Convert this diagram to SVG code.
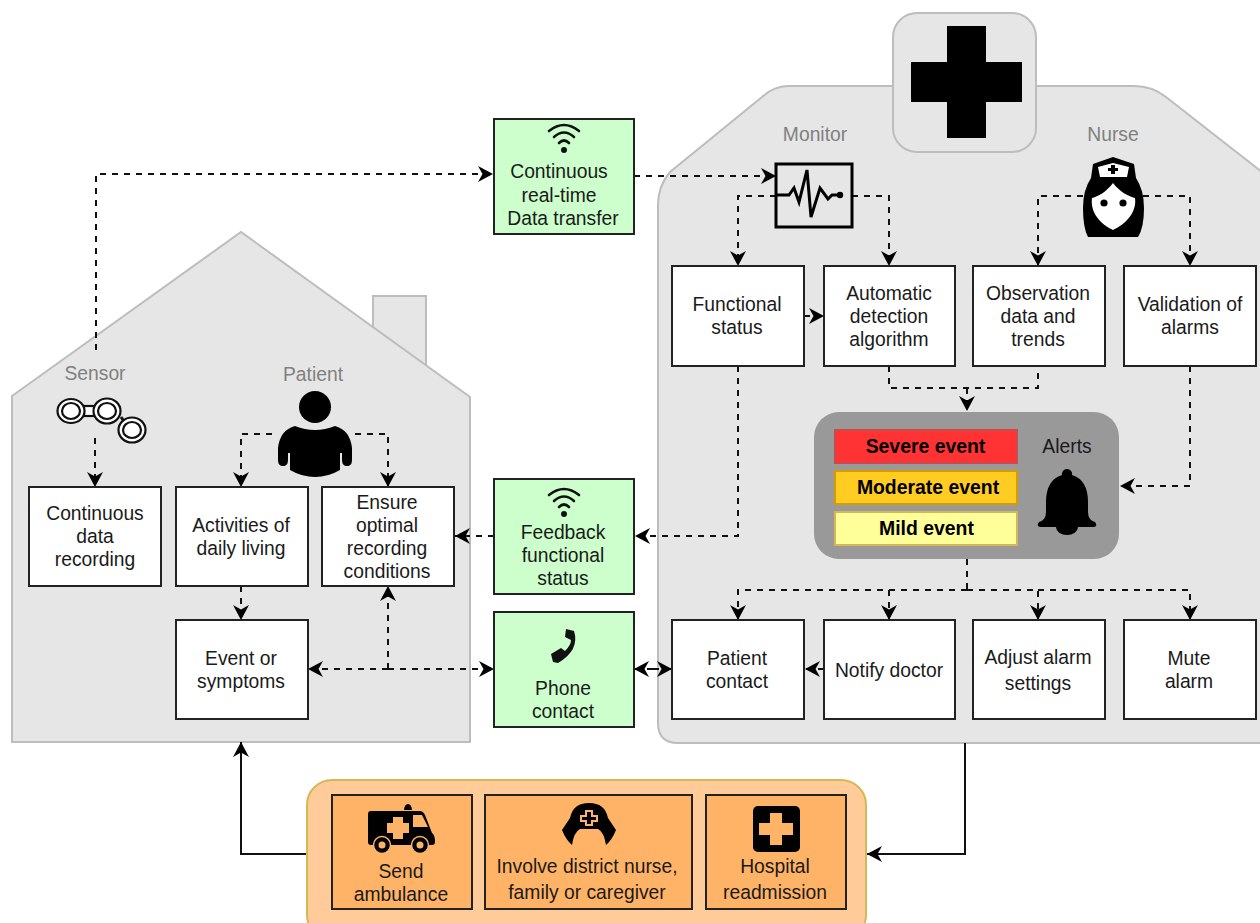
<svg xmlns="http://www.w3.org/2000/svg" width="1260" height="923" viewBox="0 0 1260 923">
<style>
text{font-family:"Liberation Sans",Arial,sans-serif;font-size:19.3px;text-anchor:middle;fill:#1a1a1a}
.g{fill:#808080}
.b{font-weight:bold;fill:#000;font-size:19.4px}
.bx{fill:#fff;stroke:#222;stroke-width:2}
.gr{fill:#ccffcc;stroke:#222;stroke-width:2}
.or{fill:#ffb366;stroke:#222;stroke-width:2}
.bg{fill:#e6e6e6;stroke:#bdbdbd;stroke-width:2}
.d{fill:none;stroke:#111;stroke-width:2;stroke-dasharray:6 6}
.da{marker-end:url(#a)}
.s{fill:none;stroke:#111;stroke-width:2;marker-end:url(#a)}
.w{fill:none;stroke:#111;stroke-width:2.6;stroke-linecap:round}
</style>
<defs>
<marker id="a" markerUnits="userSpaceOnUse" markerWidth="17" markerHeight="18" refX="15" refY="9" orient="auto-start-reverse"><path d="M15,9 L0,1 L4.5,9 L0,17 Z" fill="#000"/></marker>
<g id="wifi"><path class="w" d="M-15,-12 Q0,-24 15,-12"/><path class="w" d="M-10,-6 Q0,-15 10,-6"/><path class="w" d="M-5,0 Q0,-5 5,0"/><circle cx="0" cy="7" r="3" fill="#111"/></g>
</defs>
<g id="home">
<rect x="373" y="296" width="53" height="90" fill="#e6e6e6" stroke="#bdbdbd" stroke-width="2"/>
<path class="bg" d="M12,396 L241,232 L470,397 V742 H12 Z"/>
<text class="g" x="95" y="380">Sensor</text>
<text class="g" x="313" y="381">Patient</text>
</g>
<g id="hospital">
<path class="bg" d="M1262,172 L1166,97 Q1152,86 1134,86 H788 Q774,86 762,97 L670,172 Q658,186 658,205 V723 Q658,743 678,743 H1262"/>
<text class="g" x="815" y="141">Monitor</text>
<text class="g" x="1113" y="141">Nurse</text>
</g>
<g id="cross">
<rect class="bg" x="893" y="13" width="143" height="139" rx="24"/>
<path d="M947,26 H986 V62 H1022 V102 H986 V138 H947 V102 H911 V62 H947 Z" fill="#000"/>
</g>
<g id="connectors">
<path class="d da" d="M96,350 V174 H493"/>
<path class="d da" d="M634,176 H776"/>
<path class="d da" d="M776,196 H738 V266"/>
<path class="d da" d="M852,196 H889 V266"/>
<path class="d da" d="M1083,196 H1038 V266"/>
<path class="d da" d="M1143,196 H1190 V266"/>
<path class="d da" d="M804,316 H824"/>
<path class="d" d="M889,366 V388 H1038 V366"/>
<path class="d da" d="M967,388 V411"/>
<path class="d da" d="M1190,366 V486 H1120"/>
<path class="d da" d="M738,366 V536 H635"/>
<path class="d da" d="M494,536 H455"/>
<path class="d" d="M967,559 V590"/>
<path class="d da" d="M967,590 H738 V620"/>
<path class="d da" d="M889,590 V620"/>
<path class="d da" d="M967,590 H1038 V620"/>
<path class="d da" d="M1038,590 H1190 V620"/>
<path class="d da" d="M824,669 H805"/>
<path class="d da" d="M653,669 H634"/>
<path class="d da" d="M653,669 H672"/>
<path class="d da" d="M388,669 H308"/>
<path class="d da" d="M388,669 H494"/>
<path class="d da" d="M388,669 V586"/>
<path class="d da" d="M241,586 V620"/>
<path class="d da" d="M95,438 V487"/>
<path class="d da" d="M272,434 H241 V487"/>
<path class="d da" d="M355,434 H388 V487"/>
<path class="s" d="M965,743 V854 H867"/>
<path class="s" d="M307,854 H241 V742"/>
</g>
<g id="sensor-icon" fill="#fff" stroke="#111" stroke-width="2.2">
<rect x="84" y="406" width="12" height="10"/>
<path d="M121,417 L126,424" fill="none" stroke-width="3"/>
<ellipse cx="71" cy="411" rx="13.5" ry="12"/><ellipse cx="71" cy="411" rx="9" ry="8"/>
<ellipse cx="107" cy="411" rx="13.5" ry="12.5"/><ellipse cx="107" cy="411" rx="9" ry="8"/>
<ellipse cx="132" cy="430" rx="13.5" ry="12.5"/><ellipse cx="132" cy="430" rx="9" ry="8"/>
</g>
<g id="patient-icon" fill="#000">
<circle cx="315" cy="407" r="16"/>
<path d="M295,426 Q315,434 335,426 Q350,430 352,448 V460 Q352,466 347,466 Q342,466 342,460 V453 H340 V470 Q328,477 315,477 Q302,477 290,470 V453 H288 V460 Q288,466 283,466 Q278,466 278,460 V448 Q280,430 295,426 Z"/>
</g>
<g id="monitor-icon">
<rect x="776" y="164" width="76" height="63" fill="none" stroke="#000" stroke-width="3"/>
<path d="M776,195 H789 L794,188 L799,202 L807,170 L811,217 L820,188 L828,199 L832,195 H840" fill="none" stroke="#000" stroke-width="3"/>
<circle cx="840" cy="195" r="3.2" fill="#000"/>
</g>
<g id="nurse-icon">
<path d="M1113,157 L1134,164 L1136,178 Q1144,190 1144,208 Q1144,228 1138,237 H1088 Q1083,228 1083,208 Q1083,190 1091,178 L1093,164 Z" fill="#000"/>
<path d="M1113,163 L1129,167 L1127,177 H1100 L1098,167 Z" fill="#fff"/>
<path d="M1111,165 h4 v3 h3 v3 h-3 v3 h-4 v-3 h-3 v-3 h3 Z" fill="#000"/>
<path d="M1113,183 C1120,192 1128,196 1135,198 C1137,212 1126,224 1113,230 C1100,224 1090,212 1092,198 C1099,196 1106,192 1113,183 Z" fill="#fff"/>
<circle cx="1104" cy="203" r="3.6" fill="#000"/><circle cx="1123" cy="203" r="3.6" fill="#000"/>
</g>
<g id="n-continuous"><rect class="bx" x="29" y="487" width="132" height="99"/><text x="95" y="520">Continuous</text><text x="95" y="543">data</text><text x="95" y="566">recording</text></g>
<g id="n-activities"><rect class="bx" x="176" y="487" width="132" height="99"/><text x="241" y="532">Activities of</text><text x="241" y="555">daily living</text></g>
<g id="n-ensure"><rect class="bx" x="322" y="487" width="132" height="99"/><text x="387" y="509">Ensure</text><text x="387" y="532">optimal</text><text x="387" y="555">recording</text><text x="387" y="578">conditions</text></g>
<g id="n-event"><rect class="bx" x="176" y="620" width="132" height="99"/><text x="241" y="665">Event or</text><text x="241" y="688">symptoms</text></g>
<g id="n-transfer"><rect class="gr" x="494" y="119" width="140" height="115"/><use href="#wifi" x="564" y="143"/><text x="559" y="178">Continuous</text><text x="559" y="202">real-time</text><text x="563" y="225">Data transfer</text></g>
<g id="n-feedback"><rect class="gr" x="494" y="479" width="140" height="115"/><use href="#wifi" x="564" y="507"/><text x="563" y="539">Feedback</text><text x="563" y="562">functional</text><text x="563" y="585">status</text></g>
<g id="n-phone"><rect class="gr" x="494" y="612" width="140" height="115"/>
<path d="M566,629 L574,631 Q580,650 558,663 L553,662 L551,654 L561,648 L565,651 Q571,645 571,640 L565,637 Z" fill="#111"/>
<text x="563" y="695">Phone</text><text x="563" y="718">contact</text></g>
<g id="n-functional"><rect class="bx" x="672" y="266" width="132" height="100"/><text x="737" y="311">Functional</text><text x="737" y="334">status</text></g>
<g id="n-automatic"><rect class="bx" x="824" y="266" width="131" height="100"/><text x="889" y="300">Automatic</text><text x="889" y="323">detection</text><text x="889" y="346">algorithm</text></g>
<g id="n-observation"><rect class="bx" x="973" y="266" width="132" height="100"/><text x="1038" y="300">Observation</text><text x="1038" y="323">data and</text><text x="1038" y="346">trends</text></g>
<g id="n-validation"><rect class="bx" x="1124" y="266" width="132" height="100"/><text x="1190" y="311">Validation of</text><text x="1190" y="334">alarms</text></g>
<g id="alerts">
<rect x="814" y="412" width="305" height="147" rx="25" fill="#999"/>
<rect x="835" y="430" width="182" height="33" fill="#ff3333" stroke="#c94b4b" stroke-width="2"/>
<rect x="835" y="471" width="182" height="33" fill="#ffcc22" stroke="#d79b00" stroke-width="2"/>
<rect x="835" y="512" width="182" height="33" fill="#ffff99" stroke="#d6b656" stroke-width="2"/>
<text class="b" x="925.5" y="453">Severe event</text>
<text class="b" x="928" y="494">Moderate event</text>
<text class="b" x="926.5" y="535">Mild event</text>
<text x="1067" y="453">Alerts</text>
<path d="M1067,469 a5,5 0 0 1 5,6 Q1088,480 1088,502 V512 Q1088,520 1095,522 Q1098,526 1094,527 H1078 a11,8 0 0 1 -22,0 H1040 Q1036,526 1039,522 Q1046,520 1046,512 V502 Q1046,480 1062,475 a5,5 0 0 1 5,-6 Z" fill="#000"/>
</g>
<g id="n-patient"><rect class="bx" x="672" y="620" width="132" height="99"/><text x="737" y="665">Patient</text><text x="737" y="688">contact</text></g>
<g id="n-notify"><rect class="bx" x="824" y="620" width="131" height="99"/><text x="889" y="677">Notify doctor</text></g>
<g id="n-adjust"><rect class="bx" x="973" y="620" width="132" height="99"/><text x="1038" y="664">Adjust alarm</text><text x="1038" y="690">settings</text></g>
<g id="n-mute"><rect class="bx" x="1124" y="620" width="132" height="99"/><text x="1189" y="665">Mute</text><text x="1189" y="688">alarm</text></g>
<g id="actions">
<rect x="307" y="780" width="559" height="160" rx="25" fill="#ffcc99" stroke="#d6b656" stroke-width="2"/>
<rect class="or" x="332" y="795" width="140" height="114"/>
<rect class="or" x="485" y="795" width="207" height="114"/>
<rect class="or" x="706" y="795" width="140" height="114"/>
<path d="M404,810 a4,6 0 0 1 8,0 Z" fill="#000"/>
<path d="M371,811 H420 Q423,811 425,815 L432,833 Q435,835 435,842 Q435,845 432,845 H371 Q368,845 368,842 V814 Q368,811 371,811 Z" fill="#000"/>
<path d="M413,815 H422 L428,827 H413 Z" fill="#ffb366"/>
<path d="M393,817 h10 v6 h6 v10 h-6 v6 h-10 v-6 h-6 v-10 h6 Z" fill="#ffb366"/>
<circle cx="382" cy="845" r="8.5" fill="#000" stroke="#ffb366" stroke-width="1.5"/><circle cx="382" cy="845" r="3.5" fill="#ffb366"/>
<circle cx="420" cy="845" r="8.5" fill="#000" stroke="#ffb366" stroke-width="1.5"/><circle cx="420" cy="845" r="3.5" fill="#ffb366"/>
<text x="401" y="878">Send</text><text x="401" y="901">ambulance</text>
<path d="M589,803 Q605,803 608,818 L616,830 Q612,840 606,845 Q604,832 598,829 H580 Q574,832 572,845 Q566,840 562,830 L570,818 Q573,803 589,803 Z" fill="#000"/>
<path d="M585,810 h8 v5 h5 v7 h-5 v4 h-8 v-4 h-5 v-7 h5 Z" fill="#ffb366"/>
<path d="M587,812 h4 v5 h5 v3 h-5 v4 h-4 v-4 h-5 v-3 h5 Z" fill="#000"/>
<text x="587" y="873">Involve district nurse,</text><text x="587" y="899">family or caregiver</text>
<rect x="753" y="806" width="47" height="46" rx="5" fill="#000"/>
<path d="M770,813 h12 v10 h11 v12 h-11 v10 h-12 v-10 h-11 v-12 h11 Z" fill="#ffb366"/>
<text x="775" y="873">Hospital</text><text x="775" y="899">readmission</text>
</g>
</svg>
